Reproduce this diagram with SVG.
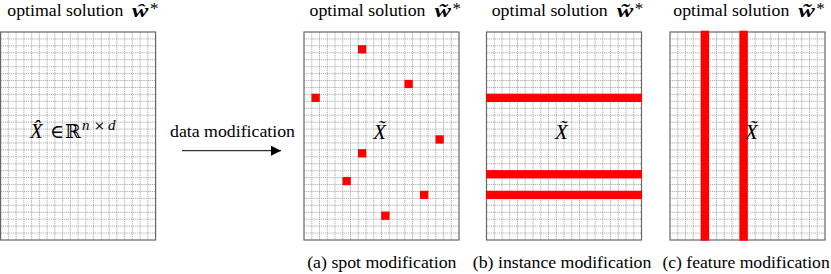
<svg xmlns="http://www.w3.org/2000/svg" xmlns:xlink="http://www.w3.org/1999/xlink" width="831" height="274" viewBox="0 0 831 274">
<style>
.t{font-family:'Liberation Serif','Times New Roman',serif;font-size:17px;fill:#000}
.cap{font-family:'Liberation Serif','Times New Roman',serif;font-size:16.5px;fill:#000}
.w{font-family:'Liberation Serif','Times New Roman',serif;font-size:19px;font-weight:bold;font-style:italic;fill:#000}
.st{font-family:'Liberation Serif','Times New Roman',serif;font-size:17px;fill:#000}
.m{font-family:'Liberation Serif','DejaVu Serif',serif;font-size:21px;font-style:italic;fill:#000}
.mu{font-family:'DejaVu Serif','Liberation Serif',serif;font-size:19px;fill:#000}
.sup{font-family:'Liberation Serif','DejaVu Serif',serif;font-size:15px;font-style:italic;fill:#000}
.supu{font-family:'DejaVu Serif','Liberation Serif',serif;font-size:13px;fill:#000}
.red{fill:#ff0000}
.minor{fill:none;stroke:#888;stroke-width:0.7;stroke-dasharray:1.2 0.9}
.border{fill:none;stroke:#666;stroke-width:1.2}
.conn{stroke:#000;stroke-width:1;fill:none}
</style>
<defs>
<marker id="ah" viewBox="0 0 10 10" refX="10" refY="5" markerWidth="10" markerHeight="10" markerUnits="userSpaceOnUse" orient="auto">
<path d="M0,0 L10,5 L0,10 Z" fill="#000"/>
</marker>
<g id="grid">
<rect x="0" y="0" width="155" height="208" fill="#fff"/>
<path class="minor" d="M7.75,0V208M15.5,0V208M23.25,0V208M31,0V208M38.75,0V208M46.5,0V208M54.25,0V208M62,0V208M69.75,0V208M77.5,0V208M85.25,0V208M93,0V208M100.75,0V208M108.5,0V208M116.25,0V208M124,0V208M131.75,0V208M139.5,0V208M147.25,0V208
M0,6.933H155M0,13.867H155M0,20.8H155M0,27.733H155M0,34.667H155M0,41.6H155M0,48.533H155M0,55.467H155M0,62.4H155M0,69.333H155M0,76.267H155M0,83.2H155M0,90.133H155M0,97.067H155M0,104H155M0,110.933H155M0,117.867H155M0,124.8H155M0,131.733H155M0,138.667H155M0,145.6H155M0,152.533H155M0,159.467H155M0,166.4H155M0,173.333H155M0,180.267H155M0,187.2H155M0,194.133H155M0,201.067H155"/>
<rect class="border" x="0" y="0" width="155" height="208"/>
</g>
</defs>

<g id="original">
<text class="t" x="7.3" y="16" textLength="116" lengthAdjust="spacingAndGlyphs">optimal solution</text>
<text class="w" x="132" y="17" textLength="16.5" lengthAdjust="spacingAndGlyphs">ŵ</text>
<text class="st" x="150" y="14">*</text>
<use xlink:href="#grid" x="0.6" y="32"/>
<text class="m" x="30" y="138">X̂</text>
<text class="mu" x="50" y="138">∈</text>
<text class="mu" x="65" y="138">ℝ</text>
<text class="sup" x="82" y="130">n</text>
<text class="supu" x="94" y="130">×</text>
<text class="sup" x="108" y="130">d</text>
</g>

<g id="spot">
<text class="t" x="309.5" y="16" textLength="116" lengthAdjust="spacingAndGlyphs">optimal solution</text>
<text class="w" x="434.5" y="17" textLength="16.5" lengthAdjust="spacingAndGlyphs">w̃</text>
<text class="st" x="452.5" y="14">*</text>
<g transform="translate(304,32)">
<use xlink:href="#grid"/>
<rect class="red" x="53.975" y="13.18" width="8.3" height="8.3"/>
<rect class="red" x="100.475" y="47.85" width="8.3" height="8.3"/>
<rect class="red" x="7.475" y="61.72" width="8.3" height="8.3"/>
<rect class="red" x="131.475" y="103.32" width="8.3" height="8.3"/>
<rect class="red" x="53.975" y="117.18" width="8.3" height="8.3"/>
<rect class="red" x="38.475" y="144.92" width="8.3" height="8.3"/>
<rect class="red" x="115.975" y="158.78" width="8.3" height="8.3"/>
<rect class="red" x="77.225" y="179.58" width="8.3" height="8.3"/>
</g>
<text class="m" x="373.3" y="138.5">X̃</text>
<text class="cap" x="307.2" y="268" textLength="149.3" lengthAdjust="spacingAndGlyphs">(a) spot modification</text>
</g>

<g id="instance">
<text class="t" x="491.7" y="16" textLength="116" lengthAdjust="spacingAndGlyphs">optimal solution</text>
<text class="w" x="616.7" y="17" textLength="16.5" lengthAdjust="spacingAndGlyphs">w̃</text>
<text class="st" x="634.7" y="14">*</text>
<g transform="translate(486.5,32)">
<use xlink:href="#grid"/>
<rect class="red" x="-0.5" y="61.69" width="156" height="8.35"/>
<rect class="red" x="-0.5" y="138.09" width="156" height="8.35"/>
<rect class="red" x="-0.5" y="158.76" width="156" height="8.35"/>
</g>
<text class="m" x="555" y="138.5">X̃</text>
<text class="cap" x="472.8" y="268" textLength="178.6" lengthAdjust="spacingAndGlyphs">(b) instance modification</text>
</g>

<g id="feature">
<text class="t" x="673.3" y="16" textLength="116" lengthAdjust="spacingAndGlyphs">optimal solution</text>
<text class="w" x="798.3" y="17" textLength="16.5" lengthAdjust="spacingAndGlyphs">w̃</text>
<text class="st" x="816.3" y="14">*</text>
<g transform="translate(670,32)">
<use xlink:href="#grid"/>
<rect class="red" x="30.7" y="-1.3" width="8.35" height="210"/>
<rect class="red" x="69.45" y="-1.3" width="8.35" height="210"/>
</g>
<text class="m" x="745" y="138.5">X̃</text>
<text class="cap" x="662.4" y="268" textLength="167.3" lengthAdjust="spacingAndGlyphs">(c) feature modification</text>
</g>

<g id="connectors">
<line class="conn" x1="182" y1="150.7" x2="281" y2="150.7" marker-end="url(#ah)"/>
<text class="t" x="170" y="137" textLength="125" lengthAdjust="spacingAndGlyphs">data modification</text>
</g>
</svg>
